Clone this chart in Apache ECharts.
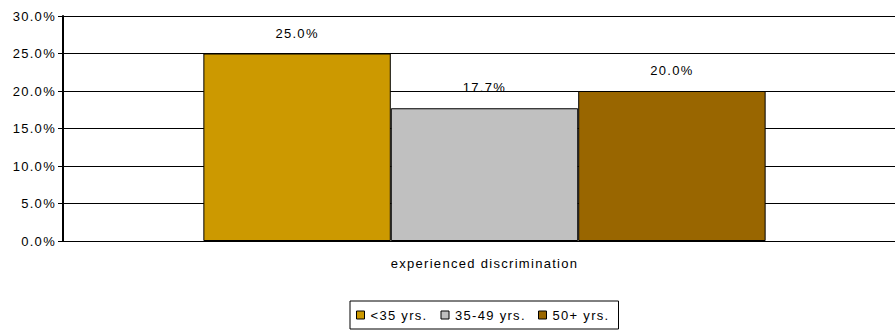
<!DOCTYPE html>
<html>
<head>
<meta charset="utf-8">
<script src="https://cdn.jsdelivr.net/npm/echarts@6/dist/echarts.min.js"></script>
<style>
  html, body { margin: 0; padding: 0; background: #fff; width: 895px; height: 330px; overflow: hidden; }
  /* plot area runs slightly past the right edge of the page */
  #chart { width: 906px; height: 330px; }
  #chart svg text { letter-spacing: 1.3px; }
</style>
</head>
<body>
<div id="chart"></div>
<script>
// Share of respondents who experienced discrimination, by age group
const categories = ['experienced discrimination'];
const seriesNames = ['<35 yrs.', '35-49 yrs.', '50+ yrs.'];
const under35 = [25.0];
const age35to49 = [17.7];
const over50 = [20.0];
const yTicks = [0, 5, 10, 15, 20, 25, 30];

const colors = ['#CC9900', '#C0C0C0', '#996600'];
const font = 'Liberation Sans, Arial, sans-serif';
const fontSize = 13;
const spacing = 1.3;

// width of a legend text including the extra letter spacing
const measureCtx = document.createElement('canvas').getContext('2d');
measureCtx.font = fontSize + 'px ' + font;
function spacedWidth(s) {
  return Math.ceil(measureCtx.measureText(s).width + s.length * spacing);
}

const chart = echarts.init(document.getElementById('chart'), null, { renderer: 'svg' });

function barSeries(name, values, color) {
  return {
    name: name,
    type: 'bar',
    data: values,
    barGap: '0%',
    barCategoryGap: '33.3%',
    itemStyle: { color: color, borderColor: '#000', borderWidth: 1 },
    label: {
      show: true,
      position: 'top',
      distance: 14,
      formatter: p => p.value.toFixed(1) + '%',
      color: '#000',
      fontFamily: font,
      fontSize: fontSize
    }
  };
}

chart.setOption({
  animation: false,
  textStyle: { fontFamily: font },
  grid: { left: 63, right: 0, top: 16, bottom: 89, containLabel: false },
  legend: {
    left: 350,
    top: 301,
    itemWidth: 8,
    itemHeight: 8,
    itemGap: 12,
    borderColor: '#000',
    borderWidth: 1,
    borderRadius: 0,
    padding: [7, 8, 7, 6],
    icon: 'rect',
    itemStyle: { borderColor: '#000', borderWidth: 1 },
    textStyle: { color: '#000', fontFamily: font, fontSize: fontSize, lineHeight: 14, padding: [0, 0, 0, 1] },
    data: seriesNames.map(n => ({ name: n, textStyle: { width: spacedWidth(n) } }))
  },
  xAxis: {
    type: 'category',
    data: categories,
    axisLine: { lineStyle: { color: '#000', width: 1 } },
    axisTick: { show: false },
    axisLabel: { color: '#000', fontFamily: font, fontSize: fontSize, margin: 16 }
  },
  yAxis: {
    type: 'value',
    min: yTicks[0],
    max: yTicks[yTicks.length - 1],
    interval: 5,
    axisLine: { show: true, lineStyle: { color: '#000', width: 2 } },
    axisTick: { show: true, length: 5, lineStyle: { color: '#000' } },
    axisLabel: {
      color: '#000',
      fontFamily: font,
      fontSize: fontSize,
      margin: 7,
      formatter: v => v.toFixed(1) + '%'
    },
    splitLine: { show: true, lineStyle: { color: '#000', width: 1 } }
  },
  series: [
    barSeries(seriesNames[0], under35, colors[0]),
    barSeries(seriesNames[1], age35to49, colors[1]),
    barSeries(seriesNames[2], over50, colors[2])
  ]
});
</script>
</body>
</html>
